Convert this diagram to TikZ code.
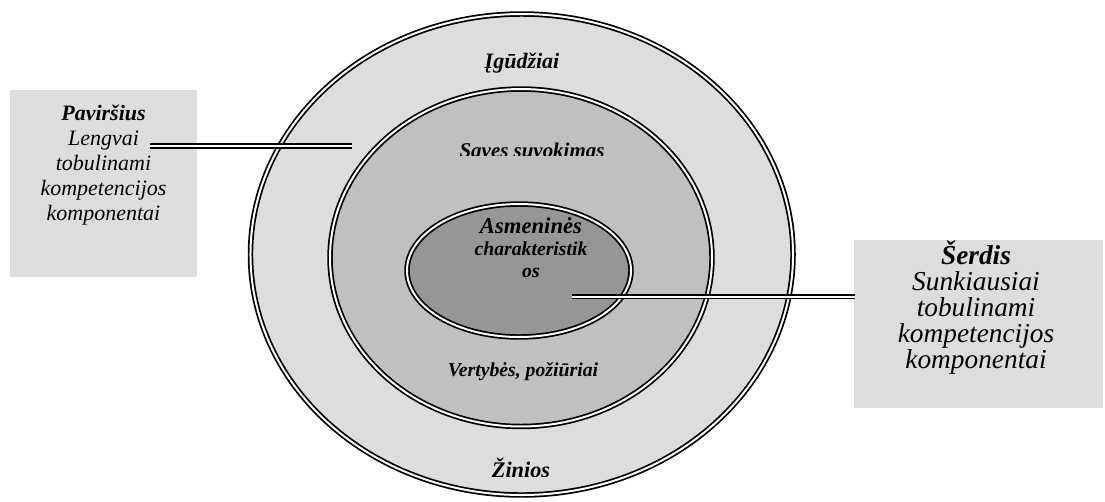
\documentclass[tikz,border=0pt]{standalone}
\usepackage{fontspec}
\setmainfont{Liberation Serif}
\usetikzlibrary{shapes.geometric}
\definecolor{ringOuter}{HTML}{DDDDDD}
\definecolor{ringMid}{HTML}{C0C0C0}
\definecolor{ringCore}{HTML}{969696}
\definecolor{panel}{HTML}{DDDDDD}
\begin{document}
\begin{tikzpicture}[x=0.75pt,y=-0.75pt,
  dbl/.style={draw=black, line width=1.3pt, double=white, double distance=1.5pt},
  ring/.style={ellipse, dbl, inner sep=0pt},
  panelbox/.style={rectangle, fill=panel, draw=none, inner sep=0pt},
  tag/.style={inner sep=0pt, anchor=base, font=\bfseries\itshape},
  boxtext/.style={inner sep=0pt, anchor=base, align=center}]
\useasboundingbox (0,0) rectangle (1105,501);
\fill[white] (0,0) rectangle (1105,501);

% side panels
\node[panelbox, minimum width=140.25pt, minimum height=140.25pt] (surface) at (103.5,183.5) {};
\node[panelbox, minimum width=186.75pt, minimum height=126pt] (core) at (978.5,324) {};

% nested rings
\node[ring, fill=ringOuter, minimum width=406.9pt, minimum height=360.75pt] (outer) at (521.75,254.5) {};
\node[ring, fill=ringMid, minimum width=286.5pt, minimum height=253.1pt] (middle) at (521,257.75) {};
\node[ring, fill=ringCore, minimum width=168pt, minimum height=99.75pt] (inner) at (519,270.5) {};

% ring labels
\node[tag, font=\bfseries\itshape\fontsize{16.5}{19}\selectfont] (skills) at (522,68) {Įgūdžiai};
\begin{scope}
  \clip (400,120) rectangle (660,155);
  \node[tag, font=\bfseries\itshape\fontsize{15.7}{19}\selectfont] (self) at (532,157) {Saves suvokimas};
\end{scope}
\node[tag, font=\bfseries\itshape\fontsize{17}{19}\selectfont] (pers1) at (531,233) {Asmeninės};
\node[tag, font=\bfseries\itshape\fontsize{14.8}{18}\selectfont] (pers2) at (531,255) {charakteristik};
\node[tag, font=\bfseries\itshape\fontsize{14.8}{18}\selectfont] (pers3) at (531,277) {os};
\node[tag, font=\bfseries\itshape\fontsize{14.8}{18}\selectfont] (values) at (523,376) {Vertybės, požiūriai};
\begin{scope}
  \clip (400,440) rectangle (660,476);
  \node[tag, font=\bfseries\itshape\fontsize{16.7}{19}\selectfont] (knowledge) at (521,477) {Žinios};
\end{scope}

% panel texts (anchored on the baseline of the last line)
\node[boxtext, font=\itshape\fontsize{16.5}{18.75}\selectfont] (surfaceText) at (103.5,220)
  {\textbf{Paviršius}\\Lengvai\\tobulinami\\kompetencijos\\komponentai};
\node[boxtext, font=\itshape\fontsize{20.5}{19.5}\selectfont] (coreText) at (976,368)
  {\textbf{Šerdis}\\Sunkiausiai\\tobulinami\\kompetencijos\\komponentai};

% connectors
\coordinate (surfaceStart) at (150,146);
\coordinate (surfaceEnd) at (352,146);
\coordinate (coreStart) at (572,296.5);
\coordinate (coreEnd) at (855,296.5);
\draw[dbl] (surfaceStart) -- (surfaceEnd);
\draw[dbl] (coreStart) -- (coreEnd);
\end{tikzpicture}
\end{document}
